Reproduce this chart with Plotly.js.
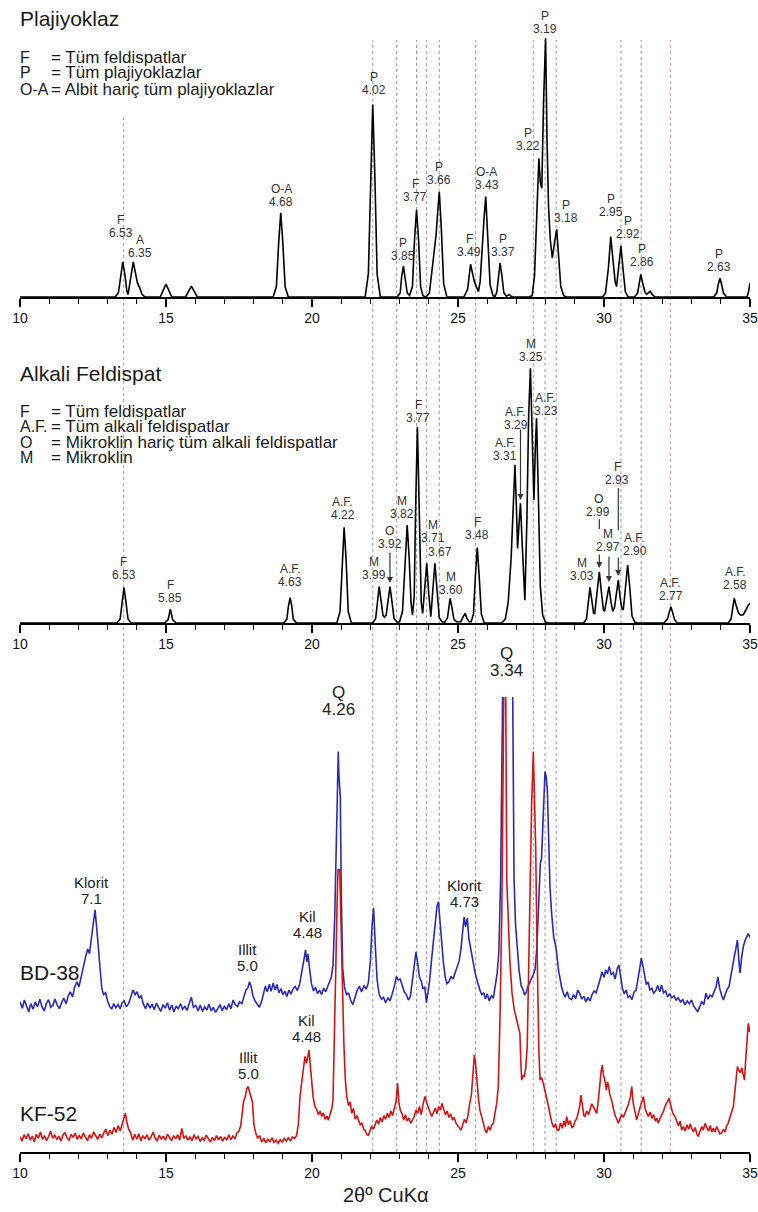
<!DOCTYPE html>
<html><head><meta charset="utf-8">
<script src="https://cdn.plot.ly/plotly-3.0.1.min.js"></script>
<style>html,body{margin:0;padding:0;background:#fff}#chart{width:758px;height:1212px}</style>
</head><body><div id="chart"></div>
<script>
// ---------- DATA (2θ, relative intensity) ----------
const plagioclase = [[10,0],[13.26,0],[13.37,1.6],[13.45,8.8],[13.52,13.5],[13.59,8.8],[13.66,2.2],[13.70,1.0],[13.81,8.8],[13.88,13.5],[13.95,9.5],[14.02,5.5],[14.10,3.5],[14.18,1.0],[14.28,0],
[14.80,0],[14.93,3.2],[15.00,5.0],[15.07,3.2],[15.20,0],[15.67,0],[15.80,2.7],[15.87,4.2],[15.94,2.7],[16.07,0],
[18.67,0],[18.78,3.9],[18.86,21],[18.93,32.4],[19.00,21],[19.08,3.9],[19.19,0],
[21.82,0],[21.93,8.9],[22.01,48],[22.08,74],[22.15,48],[22.23,8.9],[22.34,0],
[22.92,0],[23.02,1.6],[23.07,7.7],[23.13,11.9],[23.19,7.7],[23.26,1.6],[23.34,0.6],[23.44,4],[23.51,21.8],[23.58,33.5],[23.65,21.8],[23.72,4],[23.80,0.5],[23.90,0],
[24.02,1.5],[24.12,12],[24.19,19],[24.25,24],[24.30,32],[24.36,40.5],[24.43,26],[24.51,5],[24.62,0],
[25.20,0],[25.33,3],[25.38,8.5],[25.43,12.6],[25.49,9.5],[25.56,6],[25.63,4],[25.70,2],[25.76,6],[25.83,20],[25.89,30],[25.95,38.6],[26.02,24],[26.10,4.6],[26.20,0.5],
[26.27,0.2],[26.33,2],[26.38,8.5],[26.44,13],[26.50,8.5],[26.57,1.6],[26.66,0.3],[26.72,0.9],[26.76,1.0],[26.82,0.3],[26.90,0],
[27.42,0],[27.54,0.5],[27.62,8],[27.70,33],[27.77,53.3],[27.82,44],[27.87,41.8],[27.93,75],[28.00,99.5],[28.05,60],[28.10,35],[28.16,22],[28.23,15],[28.32,22],[28.38,26],[28.45,15],[28.52,4],[28.62,0.5],[28.72,0],
[29.95,0],[30.05,1.5],[30.15,11],[30.23,23.2],[30.31,14],[30.38,6],[30.43,4],[30.50,11],[30.58,19.7],[30.65,11],[30.73,2],[30.83,0],
[31.05,0],[31.15,1.5],[31.20,5.6],[31.26,8.7],[31.32,5.6],[31.40,2],[31.46,1],[31.52,1.6],[31.58,2.2],[31.65,1],[31.75,0],
[33.75,0],[33.86,1.5],[33.91,4.7],[33.97,7.2],[34.03,4.7],[34.09,1.5],[34.20,0],[34.90,0],[34.95,2],[35.00,5.3]];

const alkaliFeldspar = [[10,0],[13.32,0],[13.43,1.6],[13.50,8.8],[13.56,13.6],[13.62,8.8],[13.70,1.6],[13.80,0],
[14.95,0],[15.07,1.2],[15.15,5.3],[15.23,1.2],[15.35,0],
[19.03,0],[19.14,1.5],[19.19,6.3],[19.25,9.7],[19.31,6.3],[19.36,1.5],[19.47,0],
[20.85,0],[20.96,4.4],[21.03,24],[21.10,36.8],[21.17,24],[21.24,4.4],[21.35,0],
[22.08,0],[22.18,1.7],[22.24,9],[22.30,14],[22.36,9],[22.43,3],[22.48,2.2],[22.54,3],[22.61,9],[22.67,14],[22.73,9],[22.81,1.7],[22.92,0.3],
[23.00,0.5],[23.10,4.5],[23.19,24.5],[23.26,37.7],[23.33,24.5],[23.39,8],[23.44,3],[23.50,10],[23.55,45],[23.61,75.5],[23.67,45],[23.74,8],[23.79,3.7],[23.86,13],[23.93,23],[24.00,11],[24.07,2.4],[24.14,13],[24.21,23],[24.28,13],[24.36,2],[24.45,0.5],
[24.55,0.3],[24.64,2],[24.68,6],[24.73,9.5],[24.79,6],[24.86,1.5],[24.95,0.5],[25.10,0.5],[25.18,2.5],[25.24,3.7],[25.30,2],[25.38,0.5],[25.45,0.5],[25.53,3.5],[25.60,19],[25.66,29],[25.72,19],[25.80,3.5],[25.90,0],
[26.50,0],[26.62,1.5],[26.72,8],[26.82,25],[26.89,45],[26.95,60.8],[27.00,45],[27.04,28.7],[27.09,38],[27.14,46],[27.20,30],[27.25,14],[27.29,8.8],[27.36,40],[27.42,80],[27.48,98],[27.54,70],[27.60,47.3],[27.65,68],[27.69,78.7],[27.75,50],[27.82,14],[27.90,3],[28.00,0.3],[28.10,0],
[29.30,0],[29.40,1.6],[29.46,9],[29.52,13.7],[29.58,9],[29.64,4],[29.68,3.5],[29.77,13],[29.84,19.7],[29.91,12],[29.98,5],[30.02,4.5],[30.10,9],[30.17,14],[30.24,8],[30.30,4.5],[30.36,6],[30.43,11],[30.49,16.5],[30.55,10],[30.61,5.5],[30.66,5],[30.74,14],[30.81,22.3],[30.88,14],[30.96,2.7],[31.06,0.3],[31.15,0],
[32.05,0],[32.17,1.5],[32.23,4],[32.29,6.3],[32.35,4],[32.42,1.2],[32.52,0],
[34.25,0],[34.35,1.5],[34.41,6.2],[34.46,9.5],[34.52,7],[34.60,4],[34.68,3],[34.77,3.2],[34.86,5],[34.94,6.8],[35.00,7.5]];

const bd38 = [[10.00,33.0],[10.08,31.6],[10.15,33.4],[10.22,32.1],[10.30,30.8],[10.37,32.6],[10.45,31.4],[10.52,33.0],[10.60,31.9],[10.68,33.6],[10.75,32.0],[10.83,31.0],[10.90,32.6],[10.98,33.5],[11.05,31.8],[11.13,32.3],[11.20,33.6],[11.28,32.2],[11.35,31.5],[11.43,32.9],[11.50,33.8],[11.58,32.6],[11.65,34.3],[11.72,35.2],[11.80,34.1],[11.87,36.2],[11.95,37.4],[12.02,36.3],[12.10,38.8],[12.18,41.2],[12.25,43.0],[12.32,44.6],[12.38,43.6],[12.45,47.2],[12.52,50.6],[12.57,53.2],[12.62,49.8],[12.68,44.5],[12.74,39.2],[12.80,36.0],[12.86,34.6],[12.93,35.0],[13.00,33.2],[13.07,32.0],[13.14,31.4],[13.21,32.6],[13.28,31.7],[13.36,32.4],[13.43,31.5],[13.50,32.8],[13.57,33.2],[13.64,31.9],[13.72,32.6],[13.80,34.0],[13.87,35.6],[13.94,34.6],[14.01,35.2],[14.08,33.8],[14.15,34.4],[14.22,32.6],[14.30,31.5],[14.37,32.8],[14.45,31.6],[14.52,32.5],[14.60,31.3],[14.67,32.7],[14.75,31.8],[14.82,30.9],[14.90,32.4],[14.97,31.6],[15.05,32.8],[15.12,31.2],[15.20,32.3],[15.27,30.8],[15.35,32.1],[15.42,31.5],[15.50,32.6],[15.57,31.4],[15.65,32.0],[15.72,31.1],[15.80,32.7],[15.87,34.0],[15.94,31.8],[16.02,32.2],[16.10,31.0],[16.17,32.3],[16.25,30.9],[16.32,31.9],[16.40,31.2],[16.47,32.5],[16.55,31.0],[16.62,31.8],[16.70,30.7],[16.77,31.6],[16.85,32.4],[16.92,31.1],[17.00,32.0],[17.07,31.3],[17.15,32.6],[17.22,31.5],[17.30,33.4],[17.37,32.4],[17.45,32.0],[17.52,33.0],[17.60,32.6],[17.67,34.2],[17.74,35.6],[17.80,36.0],[17.86,37.4],[17.92,36.2],[17.98,34.3],[18.05,33.2],[18.12,32.4],[18.20,31.8],[18.27,33.0],[18.34,34.8],[18.40,36.4],[18.47,35.2],[18.54,36.9],[18.60,35.3],[18.67,37.1],[18.74,35.6],[18.80,36.8],[18.87,35.0],[18.94,35.9],[19.00,34.6],[19.07,35.3],[19.14,34.2],[19.21,35.6],[19.28,34.7],[19.35,35.8],[19.42,36.4],[19.50,35.5],[19.58,37.0],[19.65,39.6],[19.72,42.4],[19.78,44.4],[19.82,41.8],[19.86,43.5],[19.92,40.2],[19.98,37.0],[20.05,35.4],[20.12,36.2],[20.19,34.8],[20.26,35.6],[20.33,34.6],[20.40,36.0],[20.47,35.2],[20.54,36.6],[20.60,37.4],[20.66,38.4],[20.72,41.0],[20.78,52.0],[20.84,70.0],[20.88,85.0],[20.90,88.0],[20.92,83.0],[20.94,80.0],[20.97,78.0],[21.00,58.0],[21.05,40.5],[21.11,36.4],[21.18,34.5],[21.25,35.0],[21.32,33.4],[21.40,32.4],[21.47,33.8],[21.55,35.6],[21.62,36.4],[21.70,35.2],[21.78,36.6],[21.86,35.8],[21.93,37.2],[22.00,42.0],[22.06,50.0],[22.11,53.6],[22.17,45.0],[22.23,37.8],[22.30,34.6],[22.38,33.6],[22.45,34.0],[22.52,32.8],[22.60,33.9],[22.67,33.2],[22.74,34.6],[22.82,36.4],[22.89,38.6],[22.95,37.8],[23.02,38.0],[23.09,36.4],[23.16,35.2],[23.23,34.6],[23.30,33.4],[23.37,34.2],[23.44,37.6],[23.50,40.8],[23.56,44.0],[23.62,41.5],[23.68,38.4],[23.74,37.6],[23.80,35.8],[23.86,36.3],[23.92,32.8],[23.97,35.0],[24.03,37.8],[24.10,42.6],[24.16,46.0],[24.22,49.5],[24.28,54.0],[24.33,55.0],[24.38,50.5],[24.44,45.1],[24.50,41.6],[24.56,38.6],[24.62,37.0],[24.69,37.4],[24.76,38.6],[24.83,38.0],[24.90,39.3],[24.97,40.6],[25.04,42.0],[25.10,44.6],[25.16,48.5],[25.21,51.7],[25.26,49.5],[25.32,51.4],[25.37,47.0],[25.42,45.0],[25.47,43.6],[25.53,41.0],[25.58,39.6],[25.64,38.0],[25.70,36.6],[25.76,35.4],[25.82,34.6],[25.88,35.0],[25.94,33.6],[26.00,34.8],[26.07,33.2],[26.14,34.4],[26.21,33.8],[26.28,36.5],[26.34,39.2],[26.40,44.0],[26.46,60.0],[26.52,95.0],[26.56,130],[26.84,130],[26.88,80.0],[26.92,60.0],[26.97,50.0],[27.03,44.0],[27.09,40.0],[27.16,36.6],[27.22,35.8],[27.28,34.5],[27.34,35.2],[27.40,36.4],[27.46,37.2],[27.52,38.0],[27.58,39.0],[27.64,40.2],[27.70,45.0],[27.75,52.5],[27.79,60.5],[27.82,63.5],[27.86,64.5],[27.90,70.0],[27.94,78.0],[27.98,83.6],[28.02,82.5],[28.06,79.6],[28.10,70.0],[28.15,58.3],[28.20,53.0],[28.24,50.5],[28.28,47.0],[28.33,45.8],[28.38,43.7],[28.44,40.0],[28.49,37.8],[28.55,36.2],[28.61,34.9],[28.67,34.0],[28.74,35.2],[28.81,33.8],[28.89,33.5],[28.96,34.6],[29.03,33.7],[29.10,35.6],[29.17,34.8],[29.24,33.6],[29.31,34.2],[29.38,33.0],[29.45,34.0],[29.52,33.2],[29.59,34.6],[29.66,35.4],[29.73,35.0],[29.80,36.4],[29.87,38.0],[29.93,39.6],[30.00,38.4],[30.06,40.0],[30.12,39.2],[30.18,40.8],[30.25,39.0],[30.32,39.4],[30.38,38.0],[30.45,40.2],[30.51,41.1],[30.57,38.6],[30.63,36.0],[30.69,34.8],[30.76,35.6],[30.82,34.0],[30.89,34.3],[30.96,33.5],[31.03,35.2],[31.10,35.6],[31.16,37.8],[31.22,40.2],[31.28,42.6],[31.33,41.0],[31.39,39.2],[31.45,36.8],[31.51,37.4],[31.57,35.6],[31.64,36.0],[31.70,34.9],[31.77,35.4],[31.84,36.6],[31.91,35.2],[31.97,36.7],[32.04,35.0],[32.11,35.4],[32.18,34.1],[32.25,34.8],[32.32,33.9],[32.40,34.3],[32.47,33.4],[32.54,33.9],[32.62,33.0],[32.70,33.5],[32.77,32.3],[32.85,33.2],[32.92,32.6],[33.00,33.4],[33.07,32.1],[33.14,31.4],[33.21,30.8],[33.28,32.0],[33.35,33.0],[33.42,32.4],[33.49,34.9],[33.56,33.6],[33.63,34.5],[33.70,34.1],[33.77,35.2],[33.84,36.3],[33.90,38.5],[33.96,36.0],[34.03,34.4],[34.09,33.4],[34.15,34.6],[34.22,35.8],[34.28,36.3],[34.34,38.6],[34.40,41.2],[34.46,42.9],[34.52,44.8],[34.57,46.6],[34.62,42.0],[34.66,39.3],[34.71,42.6],[34.77,45.1],[34.83,46.5],[34.89,47.4],[34.94,48.0],[35.00,47.2],[35.06,46.5],[35.10,44.0]];

const kf52 = [[10.00,3.4],[10.07,2.4],[10.14,3.8],[10.21,2.9],[10.28,4.0],[10.35,2.6],[10.42,3.5],[10.49,2.2],[10.56,3.9],[10.63,3.0],[10.70,4.4],[10.77,2.8],[10.84,3.6],[10.91,2.5],[10.98,3.4],[11.05,4.6],[11.12,3.0],[11.19,3.8],[11.26,2.7],[11.33,3.5],[11.40,2.4],[11.47,3.7],[11.54,4.3],[11.61,3.1],[11.68,2.6],[11.75,3.9],[11.82,3.2],[11.89,4.1],[11.96,2.8],[12.03,3.6],[12.10,2.9],[12.17,4.2],[12.24,3.3],[12.31,2.5],[12.38,3.8],[12.45,3.0],[12.52,4.4],[12.59,3.5],[12.66,2.8],[12.73,3.9],[12.80,3.1],[12.87,4.2],[12.94,5.0],[13.01,3.6],[13.08,4.8],[13.15,3.9],[13.22,5.4],[13.29,4.3],[13.36,5.8],[13.43,4.6],[13.50,6.2],[13.56,7.4],[13.61,8.5],[13.66,6.6],[13.72,5.0],[13.79,4.2],[13.86,2.6],[13.93,3.9],[14.00,2.8],[14.07,4.0],[14.14,2.4],[14.21,3.6],[14.28,2.9],[14.35,3.8],[14.42,2.6],[14.49,3.3],[14.56,4.4],[14.63,3.0],[14.70,2.5],[14.77,3.7],[14.84,2.8],[14.91,3.5],[14.98,2.6],[15.05,3.9],[15.12,3.1],[15.19,2.5],[15.26,3.6],[15.33,2.9],[15.40,3.8],[15.47,2.6],[15.54,5.2],[15.61,3.0],[15.68,3.5],[15.75,2.7],[15.82,3.3],[15.89,2.5],[15.96,3.8],[16.03,2.9],[16.10,3.4],[16.17,2.3],[16.24,3.1],[16.31,2.6],[16.38,3.7],[16.45,2.8],[16.52,2.2],[16.59,3.2],[16.66,2.5],[16.73,3.6],[16.80,2.7],[16.87,3.4],[16.94,2.4],[17.01,3.3],[17.08,2.6],[17.15,3.8],[17.22,2.7],[17.29,3.5],[17.36,2.9],[17.43,4.2],[17.50,4.6],[17.56,5.8],[17.61,9.0],[17.66,11.2],[17.71,12.0],[17.76,13.8],[17.81,14.4],[17.86,13.2],[17.91,12.6],[17.96,11.0],[18.01,6.0],[18.07,4.2],[18.14,3.0],[18.21,3.6],[18.28,2.2],[18.35,3.0],[18.42,2.0],[18.49,2.8],[18.56,2.3],[18.63,3.1],[18.70,2.1],[18.77,2.6],[18.84,1.9],[18.91,2.7],[18.98,2.2],[19.05,3.0],[19.12,2.4],[19.19,3.1],[19.26,2.5],[19.33,3.3],[19.40,3.0],[19.47,3.6],[19.53,6.0],[19.59,12.2],[19.65,15.5],[19.70,18.0],[19.76,21.0],[19.81,19.5],[19.86,21.4],[19.90,22.4],[19.95,18.5],[19.99,15.8],[20.04,12.0],[20.10,10.0],[20.16,9.4],[20.22,8.2],[20.28,9.0],[20.33,7.8],[20.39,8.6],[20.45,7.2],[20.51,7.9],[20.56,7.0],[20.62,8.4],[20.68,9.6],[20.72,11.5],[20.77,24.0],[20.82,42.0],[20.86,55.0],[20.89,62.0],[20.95,62.0],[20.99,50.0],[21.04,36.0],[21.09,24.0],[21.14,16.0],[21.19,12.2],[21.25,10.2],[21.31,11.0],[21.36,8.5],[21.42,9.6],[21.48,7.2],[21.54,8.0],[21.59,7.0],[21.65,6.0],[21.71,6.4],[21.77,5.0],[21.83,4.6],[21.88,3.8],[21.93,3.7],[21.98,4.4],[22.04,5.6],[22.10,5.0],[22.16,6.2],[22.22,7.0],[22.28,6.1],[22.34,7.6],[22.40,6.6],[22.46,8.0],[22.52,7.2],[22.58,8.5],[22.64,7.6],[22.70,9.0],[22.76,8.0],[22.82,9.4],[22.88,11.2],[22.93,15.1],[22.98,10.6],[23.03,9.0],[23.08,8.5],[23.14,7.0],[23.20,8.2],[23.26,6.8],[23.32,7.5],[23.38,6.3],[23.44,7.0],[23.50,7.8],[23.56,9.2],[23.62,8.5],[23.68,10.0],[23.74,8.2],[23.80,10.4],[23.87,12.2],[23.93,10.8],[23.99,9.4],[24.05,8.6],[24.10,7.8],[24.16,8.8],[24.22,9.6],[24.28,8.4],[24.34,10.0],[24.40,9.2],[24.45,10.7],[24.51,9.4],[24.57,8.2],[24.63,9.0],[24.69,7.6],[24.75,8.4],[24.81,7.0],[24.87,7.6],[24.93,6.4],[24.99,5.8],[25.05,5.2],[25.10,4.8],[25.16,6.0],[25.22,7.2],[25.28,6.4],[25.34,8.0],[25.40,10.7],[25.46,12.6],[25.51,17.0],[25.56,21.3],[25.60,19.6],[25.64,16.0],[25.70,11.8],[25.75,9.2],[25.81,7.6],[25.87,6.2],[25.93,4.8],[25.98,4.2],[26.04,5.6],[26.10,4.8],[26.16,6.0],[26.21,6.3],[26.27,8.5],[26.33,11.0],[26.38,14.4],[26.44,30.0],[26.50,52.5],[26.55,130],[26.61,130],[26.67,59.8],[26.72,50.0],[26.78,41.5],[26.85,35.0],[26.92,31.5],[27.01,29.0],[27.08,27.5],[27.12,26.1],[27.15,20.0],[27.18,15.8],[27.23,16.8],[27.27,16.5],[27.32,18.5],[27.37,23.1],[27.42,40.0],[27.47,59.8],[27.52,76.0],[27.58,88.0],[27.62,78.0],[27.66,67.1],[27.70,48.0],[27.73,30.5],[27.77,22.0],[27.81,15.8],[27.86,16.4],[27.92,15.1],[27.98,13.5],[28.04,12.0],[28.10,10.0],[28.16,8.0],[28.22,6.3],[28.28,5.4],[28.34,6.2],[28.40,4.8],[28.45,4.8],[28.51,6.4],[28.57,5.2],[28.63,6.8],[28.68,5.6],[28.72,7.8],[28.78,6.0],[28.84,6.9],[28.90,5.4],[28.95,5.6],[29.01,6.8],[29.07,7.4],[29.12,8.6],[29.17,10.2],[29.21,12.5],[29.26,9.8],[29.31,8.0],[29.35,7.8],[29.41,9.0],[29.47,8.2],[29.53,9.6],[29.58,10.6],[29.63,10.0],[29.69,9.2],[29.75,8.5],[29.80,11.0],[29.85,14.8],[29.90,17.6],[29.94,19.1],[29.98,17.0],[30.03,15.8],[30.08,13.6],[30.12,15.4],[30.15,14.7],[30.20,12.6],[30.26,11.4],[30.32,9.6],[30.38,8.0],[30.44,7.2],[30.49,6.3],[30.55,7.4],[30.61,8.2],[30.66,7.6],[30.72,8.5],[30.78,9.6],[30.84,10.6],[30.90,12.0],[30.95,14.4],[31.00,10.8],[31.06,8.4],[31.12,7.0],[31.18,8.6],[31.24,10.0],[31.30,11.0],[31.35,12.2],[31.41,9.4],[31.47,8.6],[31.52,7.8],[31.58,8.8],[31.64,7.4],[31.70,8.2],[31.76,6.8],[31.81,7.4],[31.86,6.3],[31.92,7.4],[31.98,8.2],[32.04,9.0],[32.10,10.2],[32.16,10.8],[32.23,11.8],[32.29,10.2],[32.35,8.6],[32.43,7.8],[32.49,6.6],[32.55,5.8],[32.61,6.8],[32.66,4.8],[32.72,5.6],[32.78,4.6],[32.84,6.0],[32.90,5.0],[32.96,6.2],[33.00,5.2],[33.06,4.4],[33.12,5.4],[33.18,4.0],[33.23,3.4],[33.29,4.6],[33.35,5.6],[33.40,4.8],[33.46,6.3],[33.52,5.4],[33.58,4.6],[33.64,5.8],[33.69,4.4],[33.74,5.2],[33.80,4.4],[33.86,5.6],[33.92,4.8],[33.97,4.0],[34.03,4.2],[34.09,5.0],[34.15,4.4],[34.20,5.8],[34.25,6.3],[34.31,7.4],[34.37,8.6],[34.43,10.0],[34.48,13.2],[34.53,16.6],[34.57,18.8],[34.62,18.0],[34.67,17.4],[34.72,18.5],[34.77,16.6],[34.81,15.8],[34.86,21.0],[34.90,25.6],[34.94,28.3],[34.98,26.4],[35.03,28.0],[35.07,29.0]];

const refLinesGray = [22.08, 22.90, 23.58, 24.36, 27.98, 28.36, 30.58, 31.27];
const refLinesRed = [13.55, 23.92, 25.60, 27.58, 32.27];
const xTickVals = [10, 15, 20, 25, 30, 35];

const plagNames = ['F','A','O-A','P','P','F','P','F','O-A','P','P','P','P','P','P','P','P'];
const plagD = ['6.53','6.35','4.68','4.02','3.85','3.77','3.66','3.49','3.43','3.37','3.22','3.19','3.18','2.95','2.92','2.86','2.63'];
const alkNames = ['F','F','A.F.','A.F.','M','O','M','F','M','','M','F','A.F.','A.F.','M','A.F.','M','O','M','F','A.F.','A.F.','A.F.'];
const alkD = ['6.53','5.85','4.63','4.22','3.99','3.92','3.82','3.77','3.71','3.67','3.60','3.48','3.31','3.29','3.25','3.23','3.03','2.99','2.97','2.93','2.90','2.77','2.58'];

const plagLegendKeys = ['F', 'P', 'O-A'];
const plagLegendText = ['= Tüm feldispatlar', '= Tüm plajiyoklazlar', '= Albit hariç tüm plajiyoklazlar'];
const alkLegendKeys = ['F', 'A.F.', 'O', 'M'];
const alkLegendText = ['= Tüm feldispatlar', '= Tüm alkali feldispatlar', '= Mikroklin hariç tüm alkali feldispatlar', '= Mikroklin'];

// ---------- LAYOUT ----------
const FONT = 'Liberation Sans, Arial, Helvetica, sans-serif';
const H = 1212;
const Y = px => 1 - px / H;
const PX = px => (px - 20) / 730;   // page pixel -> paper x
const col = (arr, i) => arr.map(p => p[i]);

// label positions (x in 2θ, y in page pixels of first line)
const plagLabX = [13.45,14.11,18.94,22.12,23.13,23.53,24.36,25.38,25.98,26.53,27.39,27.98,28.70,30.23,30.83,31.29,33.94];
const plagLabY = [220,240,189,77,243,184,167,239,172,239,133,16,205,199,221,249,254];
const alkLabX = [13.56,15.15,19.25,21.06,22.11,22.67,23.07,23.64,24.16,24.38,24.76,25.66,26.61,26.98,27.49,28.00,29.24,29.80,30.15,30.46,31.06,32.29,34.49];
const alkLabY = [562,585,569,502,562,531,501,405,525,539,577,522,443,412,344,398,563,499,534,467,538,583,572];

const ann = [];
function txt(x, ypx, text, size, extra) {
  ann.push(Object.assign({xref:'x', yref:'paper', x:x, y:Y(ypx), text:text, showarrow:false, borderpad:0,
    font:{family:FONT, size:size, color:'#222'}, xanchor:'center', yanchor:'middle'}, extra || {}));
}
function ptxt(px, ypx, text, size) {
  ann.push({xref:'paper', yref:'paper', x:PX(px), y:Y(ypx), text:text, showarrow:false, borderpad:0,
    font:{family:FONT, size:size, color:'#1a1a1a'}, xanchor:'left', yanchor:'middle'});
}
const small = {font:{family:FONT, size:12, color:'#333'}};
plagNames.forEach((n, i) => { if (n) txt(plagLabX[i], plagLabY[i], n, 12, small); txt(plagLabX[i], plagLabY[i] + 13, plagD[i], 12, small); });
alkNames.forEach((n, i) => { if (n) txt(alkLabX[i], alkLabY[i], n, 12, small); txt(alkLabX[i], alkLabY[i] + 13, alkD[i], 12, small); });

// panel titles and keys
ptxt(19, 18, 'Plajiyoklaz', 21);
plagLegendKeys.forEach((k, i) => { ptxt(19, 57 + 16 * i, k, 16); ptxt(50, 57 + 16 * i, plagLegendText[i], 17); });
ptxt(19, 373, 'Alkali Feldispat', 21);
alkLegendKeys.forEach((k, i) => { ptxt(19, 411 + 15.6 * i, k, 16); ptxt(50, 411 + 15.6 * i, alkLegendText[i], 17); });

// bottom panel labels
const bl = (x, y1, t1, t2) => { txt(x, y1, t1, 15); txt(x, y1 + 16, t2, 15); };
bl(12.45, 882, 'Klorit', '7.1');
bl(17.78, 949, 'Illit', '5.0');
bl(17.82, 1057, 'Illit', '5.0');
bl(19.86, 916, 'Kil', '4.48');
bl(19.82, 1020, 'Kil', '4.48');
txt(20.90, 692, 'Q', 17); txt(20.90, 709, '4.26', 17);
txt(26.67, 653, 'Q', 17); txt(26.67, 670, '3.34', 17);
bl(25.21, 885, 'Klorit', '4.73');
ptxt(19, 972, 'BD-38', 21);
ptxt(19, 1113, 'KF-52', 21);
txt(22.55, 1195, '2θº CuKα', 20);

// arrows in alkali panel (y in panel units)
function arrow(x, yHead, yTail) {
  ann.push({xref:'x2', yref:'y2', axref:'x2', ayref:'y2', x:x, y:yHead, ax:x, ay:yTail, text:'',
    showarrow:true, arrowhead:2, arrowsize:1, arrowwidth:1.2, arrowcolor:'#333', standoff:0, startstandoff:0});
}
arrow(22.67, 15.4, 27.7);
arrow(27.14, 47.3, 75);
arrow(29.84, 21.2, 26.9);
arrow(30.17, 15.8, 26.2);
arrow(30.49, 18.1, 25.8);

const shapes = [];
refLinesGray.forEach(v => shapes.push({type:'line', xref:'x3', yref:'paper', x0:v, x1:v, y0:Y(1152), y1:Y(40),
  line:{color:'rgba(125,138,165,0.85)', width:1, dash:'3px,3px'}, layer:'below'}));
refLinesRed.forEach(v => shapes.push({type:'line', xref:'x3', yref:'paper', x0:v, x1:v, y0:Y(1152), y1:Y(v < 14 ? 115 : 40),
  line:{color:'rgba(222,110,120,0.85)', width:1, dash:'3px,3px'}, layer:'below'}));
// short marker strokes under O 2.99 and F 2.93 labels
shapes.push({type:'line', xref:'x2', yref:'y2', x0:29.84, x1:29.84, y0:36.2, y1:40, line:{color:'#333', width:1.2}});
shapes.push({type:'line', xref:'x2', yref:'y2', x0:30.49, x1:30.49, y0:35.8, y1:51.9, line:{color:'#333', width:1.2}});

const xax = (anchor) => ({anchor:anchor, range:[10, 35], tickmode:'array', tickvals:xTickVals,
  showgrid:false, zeroline:false, showline:true, linecolor:'#000', linewidth:1.5,
  ticks:'outside', ticklen:8, tickwidth:1.3, tickcolor:'#000',
  tickfont:{family:FONT, size:14, color:'#111'},
  minor:{ticks:'outside', ticklen:5, tickwidth:1.2, tickcolor:'#000', dtick:1, tick0:10, showgrid:false},
  fixedrange:true});
const yax = (d0, d1, r) => ({domain:[d0, d1], range:r, showgrid:false, zeroline:false, showline:false,
  showticklabels:false, ticks:'', fixedrange:true});

const layout = {
  width:758, height:1212, autosize:false,
  margin:{l:20, r:8, t:0, b:0},
  paper_bgcolor:'#fff', plot_bgcolor:'rgba(0,0,0,0)',
  showlegend:false,
  font:{family:FONT, color:'#222'},
  xaxis:xax('y'), xaxis2:xax('y2'), xaxis3:xax('y3'),
  yaxis:yax(Y(297), Y(37), [0, 100]),
  yaxis2:yax(Y(623), Y(363), [0, 100]),
  yaxis3:yax(Y(1152), Y(697), [0, 100]),
  annotations:ann, shapes:shapes
};

const traces = [
  {x:col(plagioclase,0), y:col(plagioclase,1), xaxis:'x', yaxis:'y', type:'scatter', mode:'lines', line:{color:'#000', width:1.6}, hoverinfo:'skip'},
  {x:col(alkaliFeldspar,0), y:col(alkaliFeldspar,1), xaxis:'x2', yaxis:'y2', type:'scatter', mode:'lines', line:{color:'#000', width:1.6}, hoverinfo:'skip'},
  {x:col(bd38,0), y:col(bd38,1), xaxis:'x3', yaxis:'y3', type:'scatter', mode:'lines', name:'BD-38', line:{color:'#2a2ab8', width:1.6}, hoverinfo:'skip'},
  {x:col(kf52,0), y:col(kf52,1), xaxis:'x3', yaxis:'y3', type:'scatter', mode:'lines', name:'KF-52', line:{color:'#d41414', width:1.6}, hoverinfo:'skip'}
];

Plotly.newPlot('chart', traces, layout, {staticPlot:true, displayModeBar:false});
</script>
</body></html>
